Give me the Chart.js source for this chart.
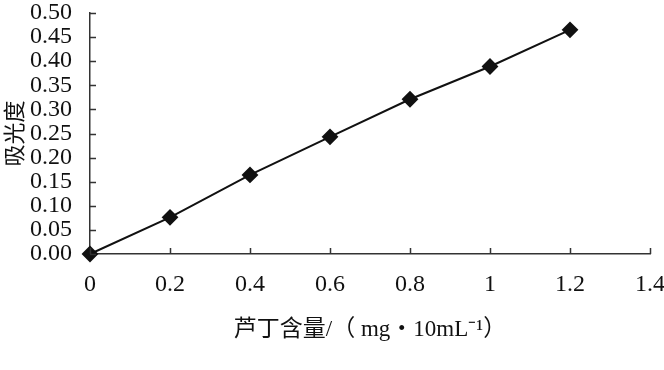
<!DOCTYPE html>
<html>
<head>
<meta charset="utf-8">
<script src="https://cdn.jsdelivr.net/npm/chart.js@4/dist/chart.umd.min.js"></script>
<style>
  html, body { margin: 0; padding: 0; background: #fff; }
  #wrap { width: 664px; height: 370px; }
</style>
</head>
<body>
<div id="wrap"><canvas id="rutinChart"></canvas></div>
<script>
// rutin content (mg / 10mL) vs absorbance
const contents = [0, 0.2, 0.4, 0.6, 0.8, 1.0, 1.2];
const absorbance = [0, 0.076, 0.164, 0.243, 0.321, 0.389, 0.465];

const xTicks = [0, 0.2, 0.4, 0.6, 0.8, 1.0, 1.2, 1.4];
const yTicks = [0, 0.05, 0.10, 0.15, 0.20, 0.25, 0.30, 0.35, 0.40, 0.45, 0.50];

const fontFamily = '"Liberation Serif", "Noto Sans CJK SC", serif';

// small tick marks drawn on the inner side of the axes
const innerTicks = {
    id: 'innerTicks',
    afterDraw(chart) {
        const c = chart.ctx;
        const xs = chart.scales.x;
        const ys = chart.scales.y;
        const area = chart.chartArea;
        c.save();
        c.strokeStyle = '#333';
        c.lineWidth = 1.5;
        c.beginPath();
        xTicks.forEach(v => {
            const px = Math.round(xs.getPixelForValue(v)) + 0.5;
            c.moveTo(px, area.bottom);
            c.lineTo(px, area.bottom - 6);
        });
        yTicks.forEach(v => {
            const py = Math.round(ys.getPixelForValue(v)) + 0.5;
            c.moveTo(area.left, py);
            c.lineTo(area.left + 6, py);
        });
        c.stroke();
        c.restore();
    }
};

const ctx = document.getElementById('rutinChart').getContext('2d');

const rutinChart = new Chart(ctx, {
    type: 'scatter',
    data: {
        datasets: [{
            data: contents.map((x, i) => ({ x: x, y: absorbance[i] })),
            showLine: true,
            clip: false,
            borderColor: '#111',
            borderWidth: 2,
            backgroundColor: '#111',
            pointStyle: 'rectRot',
            pointRadius: 7,
            pointHoverRadius: 7
        }]
    },
    options: {
        responsive: true,
        maintainAspectRatio: false,
        animation: false,
        layout: {
            padding: { top: 13, right: 14, left: 3, bottom: 0 }
        },
        plugins: {
            legend: { display: false },
            tooltip: { enabled: false }
        },
        scales: {
            x: {
                type: 'linear',
                min: 0,
                max: 1.4,
                afterBuildTicks: axis => { axis.ticks = xTicks.map(v => ({ value: v })); },
                afterFit: axis => {
                    axis.height = 116;
                    axis.paddingLeft = 0;
                    axis.paddingRight = 0;
                },
                grid: { display: false, drawTicks: false },
                border: { display: true, color: '#333', width: 1.5 },
                ticks: {
                    color: '#111',
                    padding: 16,
                    autoSkip: false,
                    maxRotation: 0,
                    font: { family: fontFamily, size: 24 },
                    callback: v => String(Number(v.toFixed(1)))
                },
                title: {
                    display: true,
                    text: '芦丁含量/（ mg・10mL⁻¹）',
                    color: '#111',
                    padding: { top: 0, bottom: 26 },
                    font: { family: fontFamily, size: 23 }
                }
            },
            y: {
                min: 0,
                max: 0.5,
                afterBuildTicks: axis => { axis.ticks = yTicks.map(v => ({ value: v })); },
                afterFit: axis => {
                    axis.width = 87;
                    axis.paddingTop = 0;
                    axis.paddingBottom = 0;
                },
                grid: { display: false, drawTicks: false },
                border: { display: true, color: '#333', width: 1.5 },
                ticks: {
                    color: '#111',
                    padding: 18,
                    autoSkip: false,
                    font: { family: fontFamily, size: 24 },
                    callback: v => v.toFixed(2)
                },
                title: {
                    display: true,
                    text: '吸光度',
                    color: '#111',
                    padding: { top: 0, bottom: 0 },
                    font: { family: fontFamily, size: 22 }
                }
            }
        }
    },
    plugins: [innerTicks]
});
</script>
</body>
</html>
